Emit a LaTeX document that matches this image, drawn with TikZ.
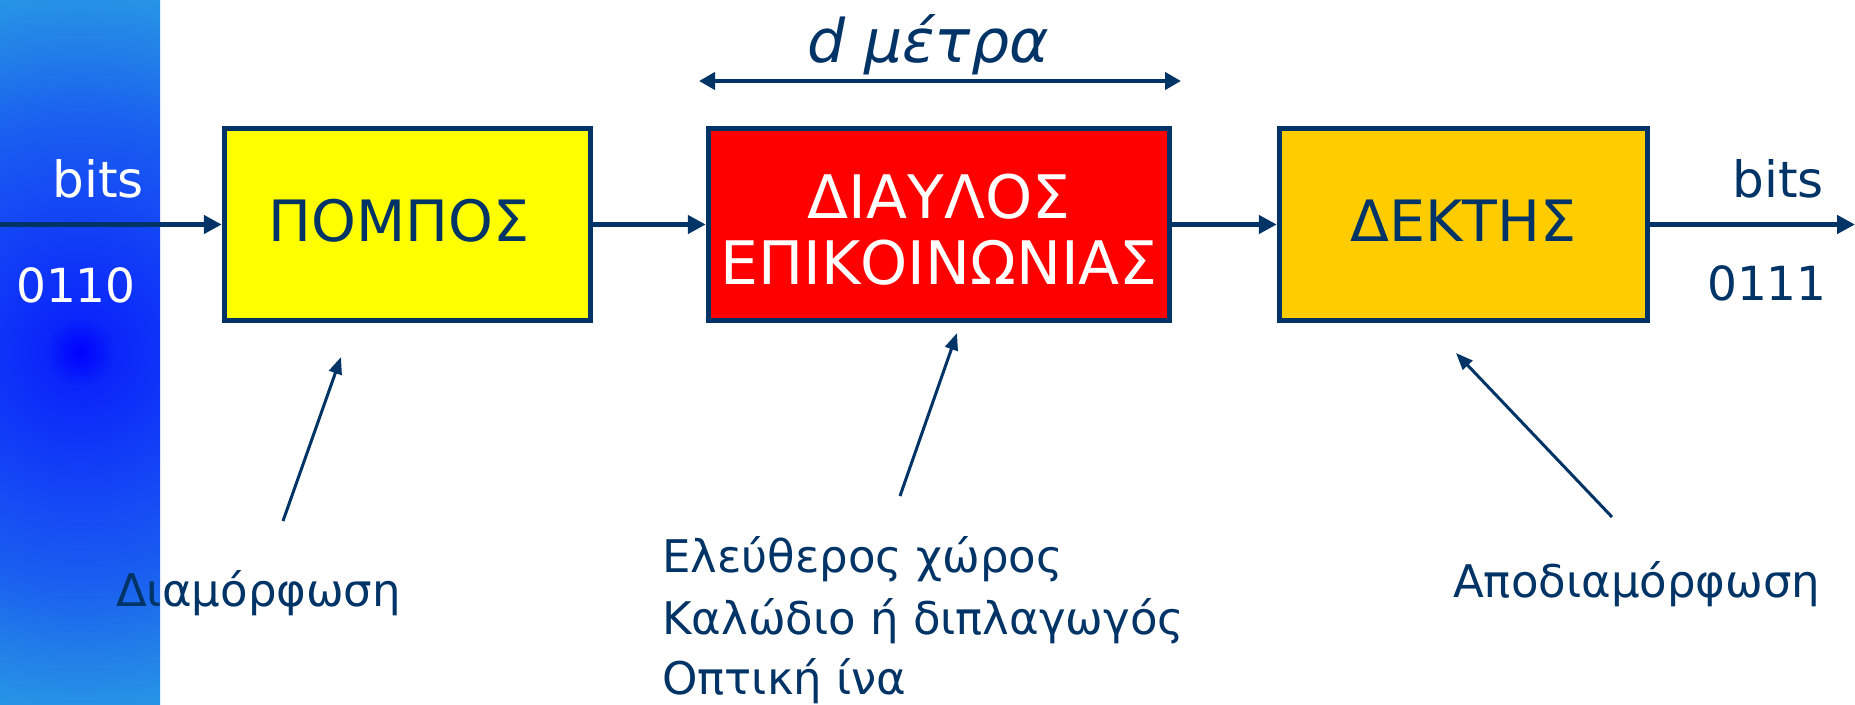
\documentclass[tikz,border=0pt]{standalone}
\usepackage{fontspec}
\setmainfont{DejaVu Sans}
\usetikzlibrary{arrows.meta}
\definecolor{navy}{RGB}{0,51,102}
\definecolor{gold}{RGB}{255,204,0}
\definecolor{txyellow}{RGB}{255,255,0}
\definecolor{chred}{RGB}{255,0,0}
\pgfdeclareradialshading{bandshade}{\pgfpointorigin}{rgb(0pt)=(0,0,1); rgb(35pt)=(0.04,0.15,0.98); rgb(150pt)=(0.08,0.28,0.96); rgb(230pt)=(0.1,0.37,0.94); rgb(300pt)=(0.13,0.49,0.91); rgb(352pt)=(0.15,0.57,0.9); rgb(380pt)=(0.16,0.59,0.9)}
\tikzset{
  blk/.style={draw=navy, line width=5.5pt, minimum height=192pt, inner sep=0pt, text=navy, font=\fontsize{57}{62}\selectfont},
  mainarrow/.style={draw=navy, line width=5.5pt, -{Triangle[length=18pt,width=18pt]}},
  ptr/.style={draw=navy, line width=3pt, -{Triangle[length=17pt,width=13pt]}},
  dimarrow/.style={draw=navy, line width=4pt, {Triangle[length=16pt,width=17pt]}-{Triangle[length=16pt,width=17pt]}},
  lbl/.style={text=navy, inner sep=0pt, font=\fontsize{45}{54}\selectfont},
  bitlbl/.style={inner sep=0pt, anchor=base, font=\fontsize{50}{56}\selectfont},
  digitlbl/.style={inner sep=0pt, anchor=base, font=\fontsize{47}{56}\selectfont},
}
\begin{document}
\begin{tikzpicture}[x=1pt,y=-1pt]
\useasboundingbox (0,0) rectangle (1855,704);
% blue band
\begin{scope}
  \clip (0,0) rectangle (160,704);
  \node[inner sep=0pt] (bandsh) at (80,352) {\pgfuseshading{bandshade}};
\end{scope}
% blocks
\node[blk, fill=txyellow, minimum width=366pt] (tx) at (407.5,224.5) {ΠΟΜΠΟΣ\rule[-8pt]{0pt}{8pt}\hspace*{17pt}};
\node[blk, fill=chred, text=white, minimum width=461pt, align=center, font=\fontsize{60}{66}\selectfont] (ch) at (939,224.5) {\rule{0pt}{55pt}ΔΙΑΥΛΟΣ\\ΕΠΙΚΟΙΝΩΝΙΑΣ};
\node[blk, fill=gold, minimum width=368pt] (rx) at (1463.5,224.5) {ΔΕΚΤΗΣ\rule[-8pt]{0pt}{8pt}};
% main flow
\coordinate (inL) at (0,224.5);
\coordinate (outR) at (1855,224.5);
\draw[mainarrow] (inL) -- (tx.west);
\draw[mainarrow] (tx.east) -- (ch.west);
\draw[mainarrow] (ch.east) -- (rx.west);
\draw[mainarrow] (rx.east) -- (outR);
% bits labels
\node[bitlbl, text=white] (bitsin) at (98,197) {bits};
\node[digitlbl, text=white] (codein) at (76,302) {0110};
\node[bitlbl, text=navy] (bitsout) at (1778,197) {bits};
\node[digitlbl, text=navy] (codeout) at (1767,300) {0111};
% distance
\coordinate (dL) at (699,81);
\coordinate (dR) at (1181,81);
\draw[dimarrow] (dL) -- (dR);
\node[inner sep=0pt, anchor=base, text=navy, font=\fontsize{60}{66}\selectfont\itshape] (dlab) at (928,62) {d μέτρα};
% labels
\node[lbl, anchor=base west] (mod) at (116,606) {Διαμόρφωση};
\node[lbl, anchor=base west] (m1) at (662,572) {Ελεύθερος χώρος};
\node[lbl, anchor=base west] (m2) at (662,634) {Καλώδιο ή διπλαγωγός};
\node[lbl, anchor=base west] (m3) at (662,694) {Οπτική ίνα};
\node[lbl, anchor=base west] (demod) at (1453,597) {Αποδιαμόρφωση};
% pointers
\coordinate (modT) at (283,521); \coordinate (modH) at (341,357);
\coordinate (chT) at (900,496);  \coordinate (chH) at (957,333);
\coordinate (dmT) at (1612,517); \coordinate (dmH) at (1456,353);
\draw[ptr] (modT) -- (modH);
\draw[ptr] (chT) -- (chH);
\draw[ptr] (dmT) -- (dmH);
\end{tikzpicture}
\end{document}
